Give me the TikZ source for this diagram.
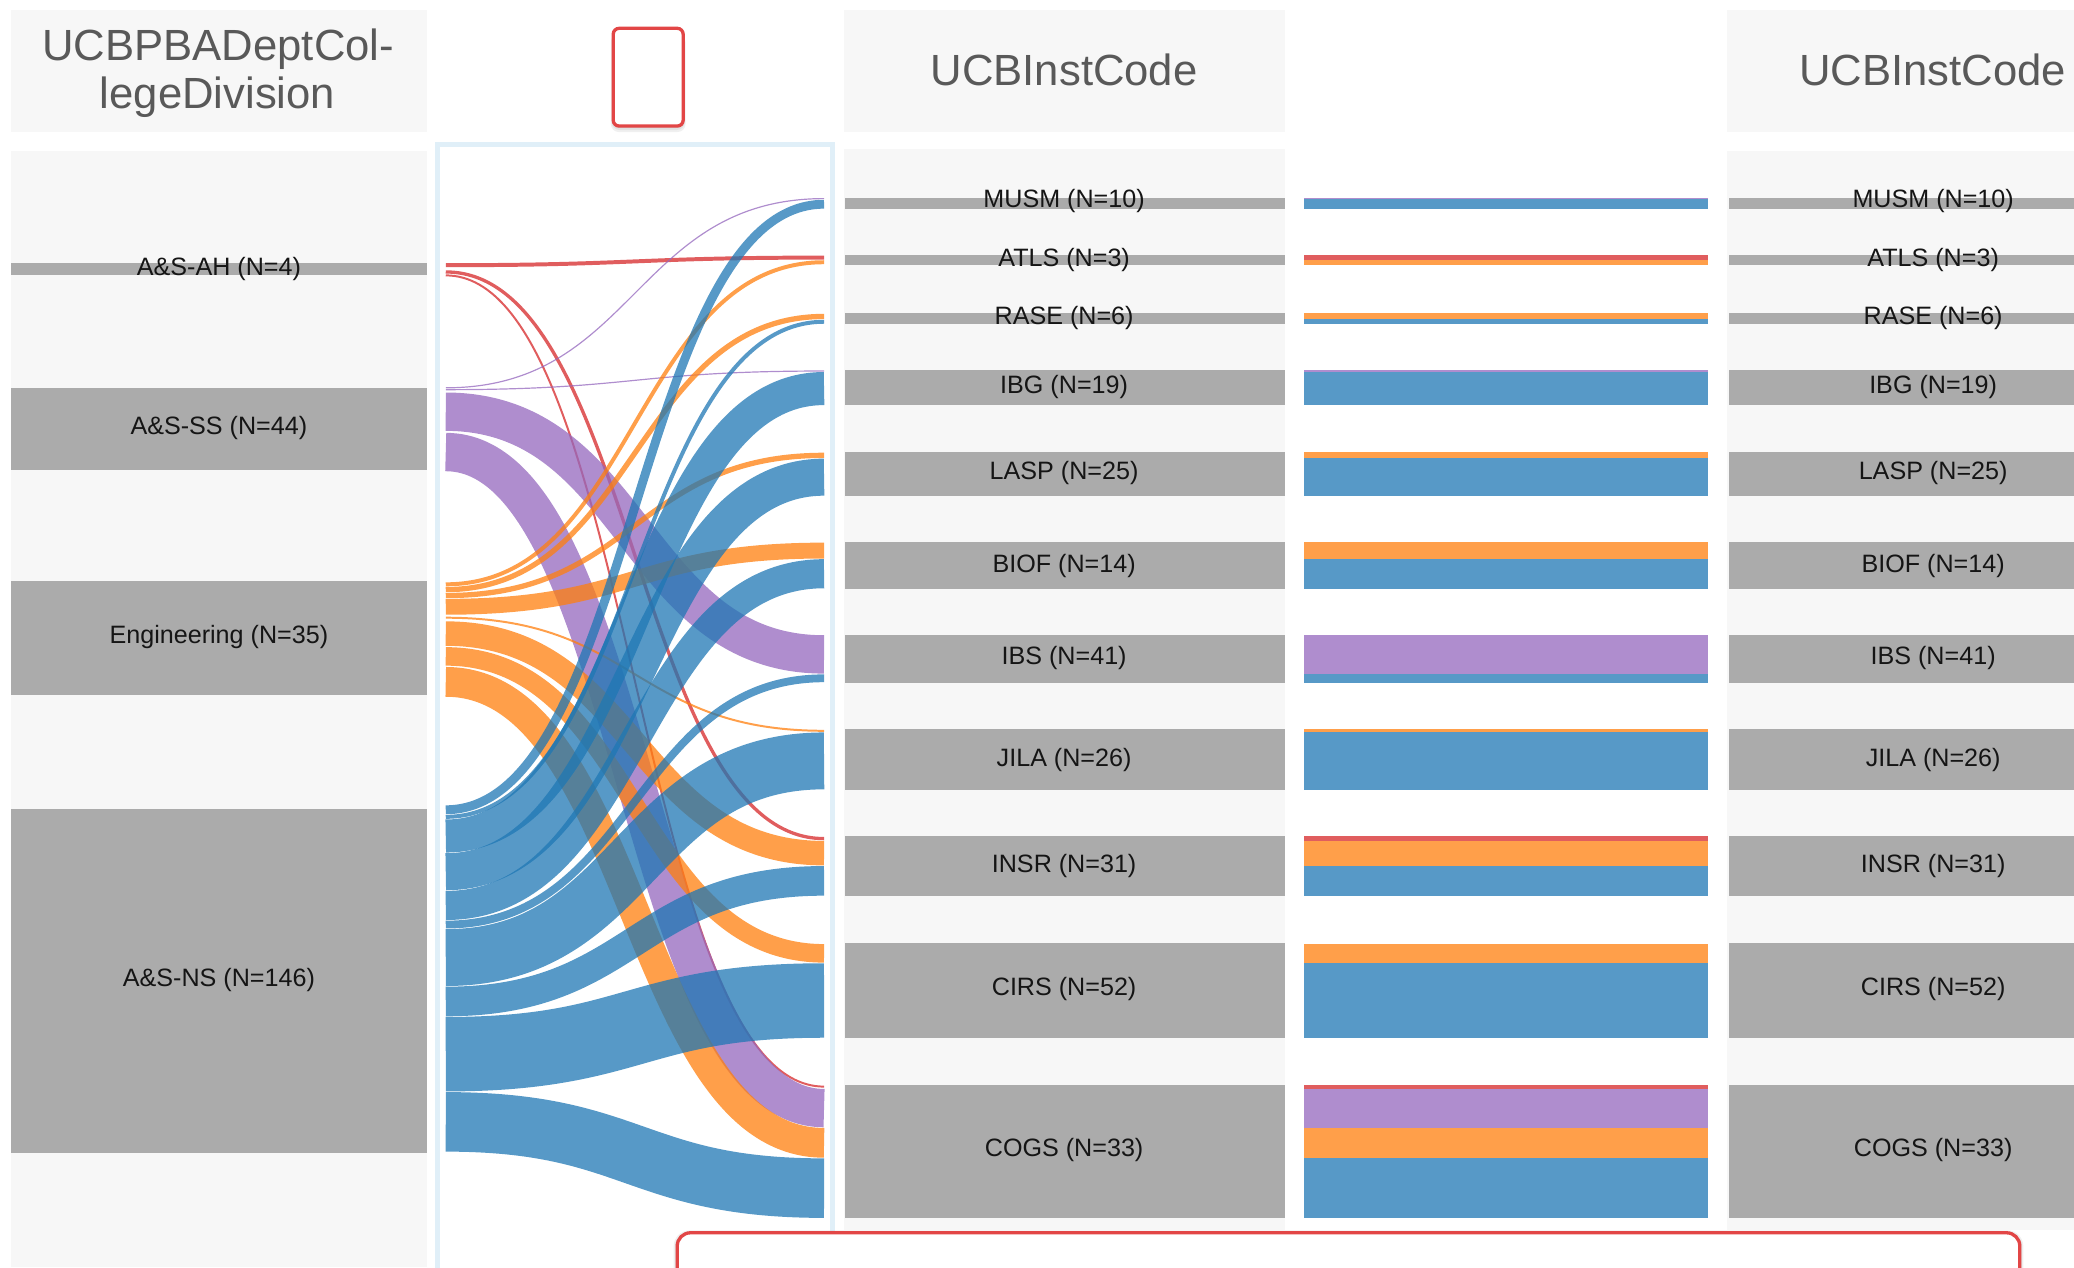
\documentclass[tikz,border=0pt]{standalone}
\usepackage{fontspec}
\setmainfont{Liberation Sans}
\definecolor{panelgray}{HTML}{F7F7F7}
\definecolor{bargray}{HTML}{ABABAB}
\definecolor{framecol}{HTML}{E0EFF8}
\definecolor{hdrcol}{HTML}{595959}
\definecolor{lblcol}{HTML}{151515}
\definecolor{cRed}{HTML}{D62728}
\definecolor{cOra}{HTML}{FF7F0E}
\definecolor{cPur}{HTML}{9467BD}
\definecolor{cBlu}{HTML}{1F77B4}
\definecolor{boxred}{HTML}{E24646}
\begin{document}
\begin{tikzpicture}[x=1pt,y=-1pt,
  panel/.style={fill=panelgray},
  nodebar/.style={fill=bargray},
  flowband/.style={draw opacity=0.75, line cap=butt},
  stackseg/.style={fill opacity=0.75},
  lbl/.style={font=\fontsize{19}{22}\selectfont, text=lblcol, anchor=base, inner sep=0pt},
  hdr/.style={font=\fontsize{33}{37}\selectfont, text=hdrcol, anchor=base, inner sep=0pt},
  redbox/.style={draw=boxred, line width=2.5pt, fill=white},
  shadowlayer/.style={fill=black, fill opacity=0.06}]
\clip (0,0) rectangle (1568,958);
\useasboundingbox (0,0) rectangle (1568,958);

% panels
\fill[panel] (8,7.6) rectangle (323,100);
\fill[panel] (8,114) rectangle (323,958);
\fill[panel] (638,7.6) rectangle (971.5,100);
\fill[panel] (638,113) rectangle (971.5,930);
\fill[panel] (1305.5,7.6) rectangle (1568,100);
\fill[panel] (1305.5,114) rectangle (1568,930);

% sankey frame
\draw[framecol, line width=3.8pt] (330.8,109) rectangle (629.4,1000);

% left node bars
\fill[nodebar] (8,198.6) rectangle (323,208);
\fill[nodebar] (8,293) rectangle (323,355.4);
\fill[nodebar] (8,439.6) rectangle (323,525.3);
\fill[nodebar] (8,611.3) rectangle (323,871.7);

% middle and right node bars
\foreach \ya/\yb in {149.5/158, 193/200, 237/245, 280/306.5, 341.5/375, 410/445, 480/516, 551.5/597, 632/677.4, 713/784.8, 820/921}{
  \fill[nodebar] (639,\ya) rectangle (971.5,\yb);
  \fill[nodebar] (1307,\ya) rectangle (1568,\yb);
}

% flows
\foreach \n/\c/\w/\yl/\yr in {
  r1/cRed/3.5/200.5/194.75, r2/cRed/3/205.6/634, r3/cRed/2/208.2/821.5,
  p1/cPur/1.3/293.2/150.15, p2/cPur/1/294.6/280.5, p3/cPur/29.5/311.25/494.75, p4/cPur/29.5/341.75/837.75,
  o1/cOra/3.5/441.75/198.25, o2/cOra/4.5/445.75/239.25, o3/cOra/4.5/450.25/344.25, o4/cOra/12.5/458.75/416.25,
  o5/cOra/2/467/552.5, o6/cOra/19/479/645, o7/cOra/14.5/496.25/720.75, o8/cOra/23/515.5/864,
  b1/cBlu/7.2/612.2/154.4, b2/cBlu/3.5/617.55/243.25, b3/cBlu/25.5/632.05/293.75, b4/cBlu/28.5/659.05/360.75,
  b5/cBlu/22.5/684.55/433.75, b6/cBlu/6.4/699/512.8, b7/cBlu/43.5/723.95/575.25, b8/cBlu/22.9/757.15/665.95,
  b9/cBlu/56.8/797/756.4, b10/cBlu/45.5/848.15/898.25}{
  \coordinate (\n s) at (337,\yl);
  \coordinate (\n t) at (623,\yr);
  \draw[flowband, \c, line width={max(\w-0.5,0.9)*1pt}] (\n s) to[out=0,in=180,out distance=143pt,in distance=143pt] (\n t);
}

% stacked bars
\foreach \c/\ya/\yb in {
  cPur/149.5/150.8, cBlu/150.8/158,
  cRed/193/196.5, cOra/196.5/200,
  cOra/237/241.5, cBlu/241.5/245,
  cPur/280/281, cBlu/281/306.5,
  cOra/342/346.5, cBlu/346.5/375,
  cOra/410/422.5, cBlu/422.5/445,
  cPur/480/509.6, cBlu/509.6/516,
  cOra/551.5/553.5, cBlu/553.5/597,
  cRed/632.4/635.5, cOra/635.5/654.5, cBlu/654.5/677.4,
  cOra/713.5/728, cBlu/728/784.8,
  cRed/820/823, cPur/823/852.5, cOra/852.5/875.5, cBlu/875.5/921}{
  \fill[stackseg, \c] (985.7,\ya) rectangle (1291.5,\yb);
}

% headers
\node[hdr] (hdrA1) at (165,45.4) {UCBPBADeptCol-};
\node[hdr] (hdrA2) at (164.5,82) {legeDivision};
\node[hdr] (hdrB) at (804.5,65) {UCBInstCode};
\node[hdr] (hdrC) at (1461,65) {UCBInstCode};

% left labels
\node[lbl] (lAH) at (165.5,208) {A\&S-AH (N=4)};
\node[lbl] (lSS) at (165.5,328.5) {A\&S-SS (N=44)};
\node[lbl] (lEN) at (165.5,486.8) {Engineering (N=35)};
\node[lbl] (lNS) at (165.5,745.8) {A\&S-NS (N=146)};

% middle and right labels
\foreach \nm/\txt/\yb in {MUSM/MUSM (N=10)/157, ATLS/ATLS (N=3)/201.3, RASE/RASE (N=6)/245.5,
  IBG/IBG (N=19)/297.8, LASP/LASP (N=25)/362.8, BIOF/BIOF (N=14)/432.5, IBS/IBS (N=41)/502.5,
  JILA/JILA (N=26)/579.5, INSR/INSR (N=31)/659.5, CIRS/CIRS (N=52)/752.5, COGS/COGS (N=33)/874.5}{
  \node[lbl] (m\nm) at (804.5,\yb) {\txt};
  \node[lbl] (k\nm) at (1461.5,\yb) {\txt};
}

% small red box with shadow
\foreach \d in {1.5,3,4.5}{
  \fill[shadowlayer, rounded corners=6pt] (463.6-\d*0.4,21.4+\d) rectangle (516.5+\d*0.4,95.3+\d);
}
\draw[redbox, rounded corners=4.5pt] (463.6,21.4) rectangle (516.5,95.3);

% bottom red box with shadow
\foreach \d in {1.5,3,4.5}{
  \fill[shadowlayer, rounded corners=12pt] (512-\d*0.6,932-\d*0.4) rectangle (1527+\d*0.6,1000);
}
\draw[redbox, rounded corners=10pt] (512,932) rectangle (1527,1000);
\end{tikzpicture}
\end{document}
